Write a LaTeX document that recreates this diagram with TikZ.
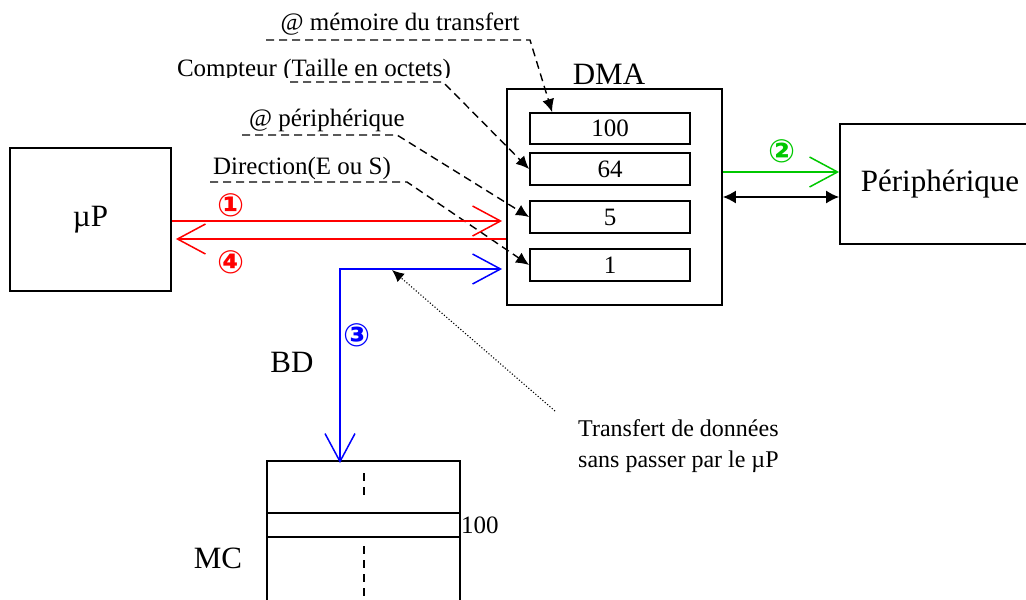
\documentclass[tikz,border=0pt]{standalone}
\usepackage{fontspec}
\setmainfont{Liberation Serif}
\newfontfamily\circfont{DejaVu Sans Bold}
\usetikzlibrary{arrows.meta}
\definecolor{myred}{RGB}{255,0,0}
\definecolor{mygreen}{RGB}{0,200,0}
\definecolor{myblue}{RGB}{0,0,255}
\tikzset{
  box/.style={draw, line width=1.8pt, rectangle, inner sep=0pt},
  reg/.style={draw, line width=1.8pt, rectangle, inner sep=0pt, minimum width=160pt, font=\fontsize{25}{30}\selectfont},
  big/.style={font=\fontsize{31}{36}\selectfont, inner sep=0pt},
  small/.style={font=\fontsize{25}{30}\selectfont, inner sep=0pt},
  dashline/.style={line width=1.4pt, dash pattern=on 8pt off 5pt, -{Latex[length=13pt,width=12pt]}},
  barb/.style={line width=1.5pt},
  barbtip/.tip={Straight Barb[length=28pt,width=30pt]},
  circ/.style={font=\circfont\fontsize{32}{34}\selectfont, inner sep=0pt},
}
\begin{document}
\begin{tikzpicture}[x=1pt,y=-1pt]
\useasboundingbox (0,0) rectangle (1026,600);
% boxes
\node[box, minimum width=161pt, minimum height=143pt, big] (up) at (90.5,219.5) {µP};
\node[box, minimum width=215pt, minimum height=216pt] (dma) at (614.5,197) {};
\node[big, anchor=base] (dmalab) at (609,84) {DMA};
\node[reg, minimum height=31pt] (r1) at (610,128.5) {100};
\node[reg, minimum height=32pt] (r2) at (610,169) {64};
\node[reg, minimum height=32pt] (r3) at (610,217) {5};
\node[reg, minimum height=32pt] (r4) at (610,265) {1};
\node[box, minimum width=200pt, minimum height=120pt, big] (peri) at (940,184) {Périphérique};
\node[box, minimum width=193pt, minimum height=180pt] (mc) at (363.5,551) {};
\coordinate (m1l) at (267,513); \coordinate (m1r) at (460,513);
\coordinate (m2l) at (267,537); \coordinate (m2r) at (460,537);
\draw[line width=1.8pt] (m1l) -- (m1r) (m2l) -- (m2r);
\coordinate (v1a) at (364,473); \coordinate (v1b) at (364,495);
\coordinate (v2a) at (364,546); \coordinate (v2b) at (364,602);
\draw[line width=1.4pt, dash pattern=on 8pt off 6pt] (v1a) -- (v1b) (v2a) -- (v2b);
\node[big, anchor=base] (mclab) at (218,568) {MC};
\node[small, anchor=base west] (mc100) at (461,533) {100};
\node[big, anchor=base] (bd) at (292,372) {BD};
% annotation texts
\node[small, anchor=base] (a1) at (400,30) {@ mémoire du transfert};
\begin{scope}
\clip (150,45) rectangle (480,77);
\node[small, anchor=base] (a2) at (314,76) {Compteur (Taille en octets)};
\end{scope}
\node[small, anchor=base] (a3) at (327,126) {@ périphérique};
\node[small, anchor=base] (a4) at (302,174) {Direction(E ou S)};
% dashed leaders
\coordinate (d1s) at (266,40); \coordinate (d1c) at (530,40);
\coordinate (d2s) at (290,82); \coordinate (d2c) at (443,82);
\coordinate (d3s) at (242,135); \coordinate (d3c) at (397,135);
\coordinate (d4s) at (210,182); \coordinate (d4c) at (407,182);
\draw[dashline] (d1s) -- (d1c) -- ([xshift=23pt]r1.north west);
\draw[dashline] (d2s) -- (d2c) -- (r2.west);
\draw[dashline] (d3s) -- (d3c) -- (r3.west);
\draw[dashline] (d4s) -- (d4c) -- (r4.west);
% red arrows
\coordinate (y1) at (0,221); \coordinate (y4) at (0,239);
\draw[barb, myred, -barbtip] (up.east |- y1) -- ([xshift=-4pt]dma.west |- y1);
\draw[barb, myred, -barbtip] (dma.west |- y4) -- ([xshift=4pt]up.east |- y4);
\node[circ, myred] (c1) at (231,205) {①};
\node[circ, myred] (c4) at (231,262) {④};
% blue arrow
\coordinate (yb) at (0,269);
\coordinate (bc) at (340,269);
\draw[barb, myblue, barbtip-barbtip] ([yshift=-3pt]mc.north -| bc) -- (bc) -- ([xshift=-4pt]dma.west |- yb);
\node[circ, myblue] (c3) at (357,335) {③};
% green arrow
\coordinate (yg) at (0,172);
\draw[barb, mygreen, -barbtip] (dma.east |- yg) -- (peri.west |- yg);
\node[circ, mygreen] (c2) at (782,151) {②};
% black double arrow
\coordinate (yk) at (0,197);
\draw[line width=1.5pt, {Latex[length=13pt,width=13pt]}-{Latex[length=13pt,width=13pt]}] (dma.east |- yk) -- (peri.west |- yk);
% dotted
\coordinate (ds) at (555,411); \coordinate (dt) at (392,270);
\draw[line width=1.1pt, dotted, -{Latex[length=12pt,width=11pt]}] (ds) -- (dt);
\node[small, anchor=north west, align=left, font=\fontsize{24}{31}\selectfont] (tr) at (578,419) {Transfert de données\\sans passer par le µP};
\end{tikzpicture}
\end{document}
